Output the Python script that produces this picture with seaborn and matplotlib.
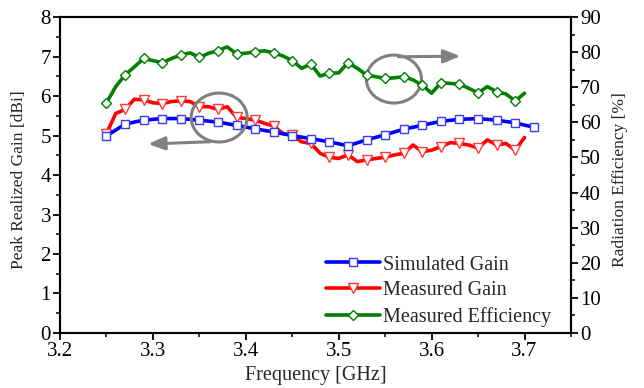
import numpy as np
import pandas as pd
import matplotlib
matplotlib.use("Agg")
import matplotlib.pyplot as plt
from matplotlib.patches import Ellipse
from matplotlib.ticker import MultipleLocator
import seaborn as sns

# ---------------- data ----------------
freq_sim = [3.25, 3.27, 3.29, 3.31, 3.33, 3.35, 3.37, 3.39, 3.41, 3.43, 3.45, 3.47,
            3.49, 3.51, 3.53, 3.55, 3.57, 3.59, 3.61, 3.63, 3.65, 3.67, 3.69, 3.71]
gain_sim = [4.99, 5.29, 5.39, 5.43, 5.43, 5.39, 5.34, 5.26, 5.17, 5.09, 5.00, 4.92,
            4.84, 4.74, 4.89, 5.02, 5.16, 5.26, 5.36, 5.41, 5.43, 5.39, 5.32, 5.21]

freq_meas = [3.25, 3.26, 3.27, 3.28, 3.29, 3.30, 3.31, 3.32, 3.33, 3.34, 3.35, 3.36,
             3.37, 3.38, 3.39, 3.40, 3.41, 3.42, 3.43, 3.44, 3.45, 3.46, 3.47, 3.48,
             3.49, 3.50, 3.51, 3.52, 3.53, 3.54, 3.55, 3.56, 3.57, 3.58, 3.59, 3.60,
             3.61, 3.62, 3.63, 3.64, 3.65, 3.66, 3.67, 3.68, 3.69, 3.70]
gain_meas = [5.05, 5.56, 5.66, 5.92, 5.90, 5.83, 5.81, 5.86, 5.88, 5.86, 5.73, 5.73,
             5.66, 5.73, 5.46, 5.43, 5.39, 5.31, 5.24, 5.05, 5.01, 4.84, 4.80, 4.55,
             4.45, 4.42, 4.51, 4.34, 4.38, 4.42, 4.45, 4.51, 4.55, 4.76, 4.59, 4.63,
             4.72, 4.82, 4.80, 4.76, 4.68, 4.89, 4.76, 4.80, 4.63, 4.95]
eff_meas = [65.6, 70.2, 73.5, 75.8, 78.2, 77.6, 77.0, 78.2, 79.2, 79.8, 78.5, 79.7,
            80.4, 81.5, 79.5, 79.7, 80.1, 80.4, 79.8, 78.9, 77.6, 75.4, 76.6, 73.2,
            74.0, 74.1, 77.0, 75.4, 73.5, 73.0, 72.5, 72.7, 73.0, 72.1, 70.6, 68.3,
            71.3, 71.1, 70.9, 69.7, 68.4, 70.2, 68.7, 68.1, 66.1, 68.3]

series_labels = ["Simulated Gain", "Measured Gain", "Measured Efficiency"]
xlabel = "Frequency [GHz]"
ylabel_left = "Peak Realized Gain [dBi]"
ylabel_right = "Radiation Efficiency [%]"

# annotation ellipses (x, y in left-axis data units) and arrows
ellipses = [(3.3713, 5.456, 0.0603, 1.24), (3.5594, 6.43, 0.0593, 1.215)]
arrows = [((3.3616, 4.843), (3.2948, 4.785)), ((3.5642, 6.995), (3.631, 7.01))]

# ---------------- style ----------------
sns.set_style("ticks")
plt.rcParams["font.family"] = ["Liberation Serif", "DejaVu Serif"]
FS_TICK = 15
FS_LEG = 14.5
FS_XLAB = 14.5
FS_YLAB = 12.5

fig = plt.figure(figsize=(6.44, 3.88), dpi=100)
ax = fig.add_axes([0.0932, 0.1418, 0.7934, 0.8142])
ax2 = ax.twinx()

df_sim = pd.DataFrame({"f": freq_sim, "g": gain_sim})
df_meas = pd.DataFrame({"f": freq_meas, "g": gain_meas, "e": eff_meas})

sns.lineplot(data=df_sim, x="f", y="g", ax=ax, color="#0000ff", linewidth=2.6,
             marker="s", markersize=5.2, markerfacecolor="white",
             markeredgecolor="#3a3aff", markeredgewidth=1.0, label=series_labels[0],
             legend=False, zorder=3)
sns.lineplot(data=df_meas, x="f", y="g", ax=ax, color="#ff0000", linewidth=2.6,
             marker="v", markersize=6.5, markerfacecolor="white",
             markeredgecolor="#ff3a3a", markeredgewidth=1.0, markevery=2,
             label=series_labels[1], legend=False, zorder=2)
sns.lineplot(data=df_meas, x="f", y="e", ax=ax2, color="#008000", linewidth=2.6,
             marker="D", markersize=5.0, markerfacecolor="white",
             markeredgecolor="#008000", markeredgewidth=1.0, markevery=2,
             label=series_labels[2], legend=False)

# axes limits / ticks
ax.set_xlim(3.2, 3.75)
ax.set_ylim(0, 8)
ax2.set_ylim(0, 90)
ax.xaxis.set_major_locator(MultipleLocator(0.1))
ax.xaxis.set_minor_locator(MultipleLocator(0.05))
ax.yaxis.set_major_locator(MultipleLocator(1))
ax.yaxis.set_minor_locator(MultipleLocator(0.5))
ax2.yaxis.set_major_locator(MultipleLocator(10))
ax2.yaxis.set_minor_locator(MultipleLocator(5))

for a in (ax, ax2):
    a.tick_params(which="major", direction="out", length=5, width=1.3,
                  labelsize=FS_TICK, pad=1.5, color="black", labelcolor="black")
    a.tick_params(which="minor", direction="out", length=3, width=1.1, color="black")
    for s in a.spines.values():
        s.set_visible(True)
        s.set_linewidth(1.5)
        s.set_color("black")

ax.set_xlabel(xlabel, fontsize=FS_XLAB)
ax.set_ylabel(ylabel_left, fontsize=FS_YLAB)
ax2.set_ylabel(ylabel_right, fontsize=FS_YLAB)
# label centres placed like the reference (axes-fraction coordinates)
ax.xaxis.set_label_coords(0.5, -0.105)
ax.yaxis.set_label_coords(-0.064, 0.485)
ax2.yaxis.set_label_coords(1.08, 0.485)

# annotations
for (cx, cy, w, h) in ellipses:
    ax.add_patch(Ellipse((cx, cy), w, h, fill=False, edgecolor="#808080",
                         linewidth=2.2, zorder=5))
for (start, end) in arrows:
    ax.annotate("", xy=end, xytext=start,
                arrowprops=dict(arrowstyle="-|>,head_length=1.0,head_width=0.4",
                                color="#808080", lw=2.2, shrinkA=0, shrinkB=0),
                zorder=5)

# legend
h1, l1 = ax.get_legend_handles_labels()
h2, l2 = ax2.get_legend_handles_labels()
leg = ax2.legend(h1 + h2, l1 + l2, loc="lower right", bbox_to_anchor=(0.985, -0.02),
                 frameon=False, fontsize=FS_LEG, handlelength=2.7, handletextpad=0.15,
                 labelspacing=0.34, borderaxespad=0.2)

fig.savefig("out.png", dpi=100)
